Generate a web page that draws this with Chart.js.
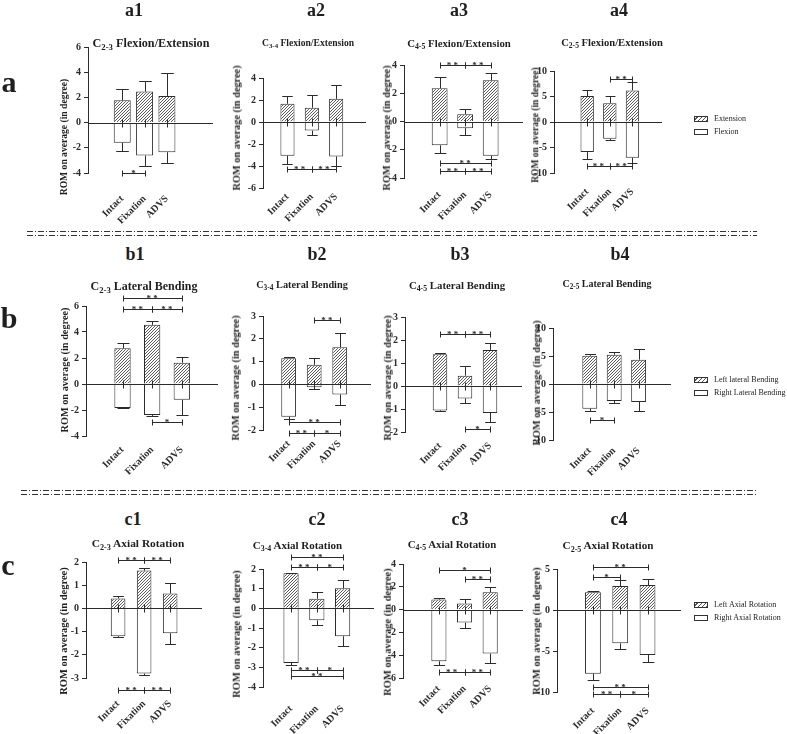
<!DOCTYPE html>
<html>
<head>
<meta charset="utf-8">
<script src="https://cdn.jsdelivr.net/npm/chart.js@4.4.1/dist/chart.umd.min.js"></script>
<style>
body { margin: 0; background: #fff; }
#fig { position: relative; width: 787px; height: 734px; overflow: hidden; background: #fff;
       font-family: "Liberation Serif", "Times New Roman", serif; color: #1f1f1f; }
#fig canvas { position: absolute; }
.t { position: absolute; white-space: nowrap; font-weight: bold; line-height: 1; transform: translate(-50%, -50%); }
.yl { position: absolute; white-space: nowrap; font-weight: bold; line-height: 1; transform: translate(-50%, -50%) rotate(-90deg); }
.leg { position: absolute; white-space: nowrap; font-size: 8px; line-height: 1; will-change: transform; color: #222; }
.leg div { height: 13px; display: flex; align-items: center; }
.sw { display: inline-block; width: 12px; height: 4px; border: 1px solid #333; margin-right: 6px; background: #fff; }
.sw.h { background: repeating-linear-gradient(-45deg, #555 0 1px, #fff 1px 3px); }
sub { font-size: 72%; vertical-align: -0.3em; line-height: 0; }
</style>
</head>
<body>
<div id="fig">
<svg width="787" height="734" style="position:absolute;left:0;top:0">
  <g stroke="#333" stroke-width="1" stroke-dasharray="6 2 1 2" fill="none">
    <line x1="27" y1="231.5" x2="757" y2="231.5"/>
    <line x1="27" y1="235.5" x2="757" y2="235.5"/>
    <line x1="21" y1="490.5" x2="757" y2="490.5"/>
    <line x1="21" y1="494.5" x2="757" y2="494.5"/>
  </g>
</svg>
</div>
<script>
const categories = ['Intact', 'Fixation', 'ADVS'];

// row a: flexion / extension, mean and SD in degrees
const a1Ext = [1.77, 2.46, 2.12];
const a1ExtSd = [0.90, 0.82, 1.80];
const a1Flex = [-1.59, -2.62, -2.35];
const a1FlexSd = [0.63, 0.79, 0.82];
const a1Sig = [[0, 1, -4.0, '*']];

const a2Ext = [1.66, 1.30, 2.11];
const a2ExtSd = [0.72, 1.20, 1.26];
const a2Flex = [-3.07, -0.78, -3.13];
const a2FlexSd = [0.76, 0.42, 0.87];
const a2Sig = [[0, 1, -4.28, '**'], [1, 2, -4.28, '**']];

const a3Ext = [2.35, 0.52, 2.92];
const a3ExtSd = [0.83, 0.35, 0.49];
const a3Flex = [-1.69, -0.47, -2.42];
const a3FlexSd = [0.57, 0.49, 0.24];
const a3Sig = [[0, 1, 4.0, '**'], [1, 2, 4.0, '**'], [0, 2, -2.94, '**'], [0, 1, -3.48, '**'], [1, 2, -3.48, '**']];

const a4Ext = [5.1, 3.7, 6.2];
const a4ExtSd = [1.1, 1.4, 1.6];
const a4Flex = [-5.9, -3.3, -7.0];
const a4FlexSd = [1.3, 0.3, 1.0];
const a4Sig = [[1, 2, 8.4, '**'], [0, 1, -8.7, '**'], [1, 2, -8.7, '**']];

// row b: lateral bending
const b1Left = [2.75, 4.55, 1.64];
const b1LeftSd = [0.4, 0.3, 0.41];
const b1Right = [-1.84, -2.39, -1.22];
const b1RightSd = [0.03, 0.1, 1.17];
const b1Sig = [[0, 2, 6.6, '**'], [0, 1, 5.8, '**'], [1, 2, 5.8, '**'], [1, 2, -2.9, '*']];

const b2Left = [1.15, 0.86, 1.63];
const b2LeftSd = [0.03, 0.30, 0.62];
const b2Right = [-1.42, -0.12, -0.44];
const b2RightSd = [0.09, 0.08, 0.48];
const b2Sig = [[1, 2, 2.83, '**'], [0, 2, -1.64, '**'], [0, 1, -2.14, '**'], [1, 2, -2.14, '*']];

const b3Left = [1.38, 0.45, 1.57];
const b3LeftSd = [0.05, 0.43, 0.31];
const b3Right = [-1.06, -0.54, -1.17];
const b3RightSd = [0.03, 0.21, 0.38];
const b3Sig = [[0, 1, 2.26, '**'], [1, 2, 2.26, '**'], [1, 2, -1.86, '*']];

const b4Left = [5.06, 5.24, 4.35];
const b4LeftSd = [0.3, 0.46, 1.95];
const b4Right = [-4.4, -3.04, -3.2];
const b4RightSd = [0.36, 0.36, 1.6];
const b4Sig = [[0, 1, -6.5, '*']];

// row c: axial rotation
const c1Left = [0.43, 1.63, 0.64];
const c1LeftSd = [0.09, 0.09, 0.45];
const c1Right = [-1.2, -2.81, -1.07];
const c1RightSd = [0.05, 0.04, 0.46];
const c1Sig = [[0, 1, 2.09, '**'], [1, 2, 2.09, '**'], [0, 1, -3.5, '**'], [1, 2, -3.5, '**']];

const c2Left = [1.78, 0.49, 1.02];
const c2LeftSd = [0.04, 0.34, 0.44];
const c2Right = [-2.78, -0.61, -1.42];
const c2RightSd = [0.1, 0.22, 0.48];
const c2Sig = [[0, 2, 2.61, '**'], [0, 1, 2.12, '**'], [1, 2, 2.12, '*'], [0, 1, -3.14, '**'], [1, 2, -3.14, '*'], [0, 2, -3.44, '**']];

const c3Left = [0.88, 0.53, 1.52];
const c3LeftSd = [0.17, 0.37, 0.47];
const c3Right = [-4.53, -1.14, -3.86];
const c3RightSd = [0.35, 0.44, 0.84];
const c3Sig = [[0, 2, 3.45, '*'], [1, 2, 2.66, '**'], [0, 1, -5.5, '**'], [1, 2, -5.5, '**']];

const c4Left = [2.15, 2.93, 3.05];
const c4LeftSd = [0.13, 0.73, 0.69];
const c4Right = [-7.76, -4.07, -5.49];
const c4RightSd = [0.82, 0.73, 0.85];
const c4Sig = [[0, 2, 5.28, '**'], [0, 1, 4.07, '*'], [0, 2, -9.35, '**'], [0, 1, -10.28, '**'], [1, 2, -10.28, '*']];

const aNames = ['Extension', 'Flexion'];
const bNames = ['Left lateral Bending', 'Right Lateral Bending'];
const cNames = ['Left Axial Rotation', 'Right Axial Rotation'];

const INK = '#2b2b2b';
const SERIF = '"Liberation Serif", "Times New Roman", serif';

// layout of each small chart: plot box [left, top, right, bottom] in page px
const panels = [
  { tag: 'a1', seg: '2-3', motion: 'Flexion/Extension', names: aNames, pos: a1Ext, posSd: a1ExtSd, neg: a1Flex, negSd: a1FlexSd, sig: a1Sig,
    y: [-4, 6, 2], box: [88, 47, 213, 173], x: [-0.6, 3.13], bar: 0.76, labPad: 20, title: [151, 43, 12.2], tagAt: [134, 10], yLab: [64, 137, 9.6] },
  { tag: 'a2', seg: '3-4', motion: 'Flexion/Extension', names: aNames, pos: a2Ext, posSd: a2ExtSd, neg: a2Flex, negSd: a2FlexSd, sig: a2Sig,
    y: [-6, 4, 2], box: [263, 78, 366, 188], x: [-0.3, 2.52], bar: 0.58, labPad: 3, title: [308, 43, 9.6], tagAt: [316, 10], yLab: [236.5, 128, 10.3] },
  { tag: 'a3', seg: '4-5', motion: 'Flexion/Extension', names: aNames, pos: a3Ext, posSd: a3ExtSd, neg: a3Flex, negSd: a3FlexSd, sig: a3Sig,
    y: [-4, 4, 2], box: [404, 65, 523, 178], x: [-0.62, 2.49], bar: 0.62, labPad: 11, title: [459, 43, 10.8], tagAt: [459, 10], yLab: [387, 128, 10.3] },
  { tag: 'a4', seg: '2-5', motion: 'Flexion/Extension', names: aNames, pos: a4Ext, posSd: a4ExtSd, neg: a4Flex, negSd: a4FlexSd, sig: a4Sig,
    y: [-10, 10, 5], box: [554, 71, 662, 173], x: [-0.67, 2.51], bar: 0.59, labPad: 13, title: [612, 43, 10.6], tagAt: [619, 10], yLab: [535.5, 125, 9.5] },
  { tag: 'b1', seg: '2-3', motion: 'Lateral Bending', names: bNames, pos: b1Left, posSd: b1LeftSd, neg: b1Right, negSd: b1RightSd, sig: b1Sig,
    y: [-4, 6, 2], box: [86, 306, 218, 436], x: [-0.49, 2.48], bar: 0.55, labPad: 8, title: [144, 286, 12], tagAt: [135, 254], yLab: [64.5, 370, 10.3] },
  { tag: 'b2', seg: '3-4', motion: 'Lateral Bending', names: bNames, pos: b2Left, posSd: b2LeftSd, neg: b2Right, negSd: b2RightSd, sig: b2Sig,
    y: [-2, 3, 1], box: [263, 316, 371, 430], x: [-0.3, 2.52], bar: 0.58, labPad: 8, title: [302, 285, 10.3], tagAt: [317, 254], yLab: [236, 378, 10.3] },
  { tag: 'b3', seg: '4-5', motion: 'Lateral Bending', names: bNames, pos: b3Left, posSd: b3LeftSd, neg: b3Right, negSd: b3RightSd, sig: b3Sig,
    y: [-2, 3, 1], box: [405, 317, 522, 432], x: [-0.62, 2.5], bar: 0.58, labPad: 8, title: [457, 285, 10.8], tagAt: [460, 254], yLab: [388, 378, 10.3] },
  { tag: 'b4', seg: '2-5', motion: 'Lateral Bending', names: bNames, pos: b4Left, posSd: b4LeftSd, neg: b4Right, negSd: b4RightSd, sig: b4Sig,
    y: [-10, 10, 5], box: [553, 328, 671, 440], x: [-0.7, 2.52], bar: 0.61, labPad: 5, title: [607, 284, 10], tagAt: [620, 254], yLab: [536.5, 383, 10.3] },
  { tag: 'c1', seg: '2-3', motion: 'Axial Rotation', names: cNames, pos: c1Left, posSd: c1LeftSd, neg: c1Right, negSd: c1RightSd, sig: c1Sig,
    y: [-3, 2, 1], box: [86, 562, 202, 678], x: [-0.49, 2.48], bar: 0.56, labPad: 20, title: [138, 544, 11.4], tagAt: [133, 519], yLab: [64, 631, 10.5] },
  { tag: 'c2', seg: '3-4', motion: 'Axial Rotation', names: cNames, pos: c2Left, posSd: c2LeftSd, neg: c2Right, negSd: c2RightSd, sig: c2Sig,
    y: [-4, 2, 1], box: [263, 569, 374, 687], x: [-0.37, 2.5], bar: 0.59, labPad: 16, title: [297.5, 545, 11], tagAt: [317, 519], yLab: [236.5, 634, 10.5] },
  { tag: 'c3', seg: '4-5', motion: 'Axial Rotation', names: cNames, pos: c3Left, posSd: c3LeftSd, neg: c3Right, negSd: c3RightSd, sig: c3Sig,
    y: [-6, 4, 2], box: [403, 564, 523, 678], x: [-0.62, 2.5], bar: 0.59, labPad: 5, title: [452, 544, 10.9], tagAt: [460, 519], yLab: [387.5, 632, 10.5] },
  { tag: 'c4', seg: '2-5', motion: 'Axial Rotation', names: cNames, pos: c4Left, posSd: c4LeftSd, neg: c4Right, negSd: c4RightSd, sig: c4Sig,
    y: [-10, 5, 5], box: [557, 569, 681, 692], x: [-0.56, 2.47], bar: 0.58, labPad: 13, title: [608, 546, 11.2], tagAt: [619, 519], yLab: [536.5, 631, 10.5] }
];

const fig = document.getElementById('fig');

function hatch() {
  const n = 3;
  const c = document.createElement('canvas');
  c.width = c.height = n;
  const g = c.getContext('2d');
  g.fillStyle = '#fff';
  g.fillRect(0, 0, n, n);
  g.strokeStyle = '#4a4a4a';
  g.lineWidth = 0.9;
  g.beginPath();
  g.moveTo(0, n); g.lineTo(n, 0);
  g.moveTo(-1, 1); g.lineTo(1, -1);
  g.moveTo(n - 1, n + 1); g.lineTo(n + 1, n - 1);
  g.stroke();
  return g.createPattern(c, 'repeat');
}
const HATCH = hatch();

// error bars, zero line and significance brackets
const extras = {
  id: 'extras',
  afterDatasetsDraw(chart, args, opts) {
    const { ctx, chartArea: area, scales: { x, y } } = chart;
    const seg = (x1, y1, x2, y2) => { ctx.moveTo(x1, y1); ctx.lineTo(x2, y2); };
    ctx.save();
    ctx.strokeStyle = INK;
    ctx.lineWidth = 1;
    ctx.beginPath();
    chart.data.datasets.forEach((ds, di) => {
      chart.getDatasetMeta(di).data.forEach((bar, i) => {
        const v = ds.data[i].y;
        const tip = Math.round(y.getPixelForValue(v + Math.sign(v) * ds.sd[i])) + 0.5;
        const cx = Math.round(bar.x) + 0.5;
        const half = bar.width * 0.37;
        seg(cx, bar.y, cx, tip);
        seg(cx - half, tip, cx + half, tip);
      });
    });
    const y0 = Math.round(y.getPixelForValue(0)) + 0.5;
    seg(area.left, y0, area.right, y0);
    categories.forEach((c, i) => {
      const px = Math.round(x.getPixelForValue(i)) + 0.5;
      seg(px, y0 - 4, px, y0 + 4);
    });
    opts.sig.forEach(([a, b, v]) => {
      const py = Math.round(y.getPixelForValue(v)) + 0.5;
      const x1 = Math.round(x.getPixelForValue(a)) + 0.5;
      const x2 = Math.round(x.getPixelForValue(b)) + 0.5;
      seg(x1, py, x2, py);
      seg(x1, py - 3, x1, py + 3);
      seg(x2, py - 3, x2, py + 3);
    });
    ctx.stroke();
    ctx.fillStyle = INK;
    ctx.font = 'bold 9px ' + SERIF;
    ctx.textAlign = 'center';
    ctx.textBaseline = 'alphabetic';
    opts.sig.forEach(([a, b, v, txt]) => {
      const py = y.getPixelForValue(v);
      const mid = (x.getPixelForValue(a) + x.getPixelForValue(b)) / 2;
      ctx.fillText(txt.split('').join(' '), mid, py + 3);
    });
    ctx.restore();
  }
};

function addText(cls, html, x, y, size) {
  const d = document.createElement('div');
  d.className = cls;
  d.innerHTML = html;
  d.style.left = x + 'px';
  d.style.top = y + 'px';
  d.style.fontSize = size + 'px';
  fig.appendChild(d);
}

const L = 40, T = 30, R = 14, B = 58;
const tickFont = { family: SERIF, weight: 'bold', size: 10 };

panels.forEach(p => {
  const [left, top, right, bottom] = p.box;
  const cv = document.createElement('canvas');
  cv.width = right - left + L + R;
  cv.height = bottom - top + T + B;
  cv.style.left = (left - L) + 'px';
  cv.style.top = (top - T) + 'px';
  fig.appendChild(cv);

  new Chart(cv, {
    type: 'bar',
    data: {
      datasets: [
        { label: p.names[0], data: p.pos.map((v, i) => ({ x: i, y: v })), sd: p.posSd,
          backgroundColor: HATCH, borderColor: INK, borderWidth: 1, grouped: false,
          categoryPercentage: p.bar, barPercentage: 1 },
        { label: p.names[1], data: p.neg.map((v, i) => ({ x: i, y: v })), sd: p.negSd,
          backgroundColor: '#fff', borderColor: INK, borderWidth: 1, grouped: false,
          categoryPercentage: p.bar, barPercentage: 1 }
      ]
    },
    plugins: [extras],
    options: {
      responsive: false,
      animation: false,
      devicePixelRatio: 1,
      layout: { padding: { top: T, right: R, left: 0, bottom: 0 } },
      plugins: {
        legend: { display: false },
        tooltip: { enabled: false },
        extras: { sig: p.sig }
      },
      scales: {
        x: {
          type: 'linear', min: p.x[0], max: p.x[1],
          grid: { display: false, drawTicks: false },
          border: { display: false },
          afterBuildTicks: s => { s.ticks = categories.map((c, i) => ({ value: i })); },
          afterFit: s => { s.height = B; s.paddingLeft = 0; s.paddingRight = 0; },
          ticks: { autoSkip: false, minRotation: 45, maxRotation: 45, padding: p.labPad, color: INK, font: tickFont,
                   callback: v => categories[v] ?? '' }
        },
        y: {
          min: p.y[0], max: p.y[1],
          afterFit: s => { s.width = L; s.paddingTop = 0; s.paddingBottom = 0; },
          border: { display: true, color: INK, width: 1 },
          grid: { drawOnChartArea: false, drawTicks: true, tickLength: 4, color: INK },
          ticks: { stepSize: p.y[2], padding: 3, color: INK, font: tickFont }
        }
      }
    }
  });

  addText('t', p.tag, p.tagAt[0], p.tagAt[1], 18);
  addText('t', 'C<sub>' + p.seg + '</sub> ' + p.motion, p.title[0], p.title[1], p.title[2]);
  addText('yl', 'ROM on average (in degree)', p.yLab[0], p.yLab[1], p.yLab[2]);
});

// row letters
addText('t', 'a', 9, 82, 30);
addText('t', 'b', 9, 318, 30);
addText('t', 'c', 8, 565, 30);

// legends beside the last chart of each row
[[aNames, 112], [bNames, 373], [cNames, 598]].forEach(([names, top]) => {
  const d = document.createElement('div');
  d.className = 'leg';
  d.style.left = '694px';
  d.style.top = top + 'px';
  d.innerHTML = '<div><span class="sw h"></span>' + names[0] + '</div><div><span class="sw"></span>' + names[1] + '</div>';
  fig.appendChild(d);
});
</script>
</body>
</html>
